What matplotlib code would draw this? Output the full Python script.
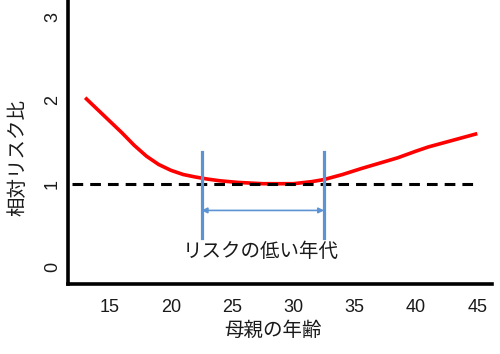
import matplotlib
matplotlib.use("Agg")
import matplotlib.pyplot as plt

plt.rcParams['font.family'] = ['Liberation Sans', 'Noto Sans CJK JP', 'DejaVu Sans']

# data
ages = [13, 14, 15, 16, 17, 18, 19, 20, 21, 22, 23, 24, 25.5, 27.5, 30, 31.5, 32.5,
        34, 35.5, 37, 38.5, 40, 41, 43, 45]
risk = [2.03, 1.89, 1.75, 1.61, 1.46, 1.33, 1.23, 1.16, 1.11, 1.08, 1.055, 1.035,
        1.015, 1.0, 1.0, 1.025, 1.05, 1.11, 1.18, 1.245, 1.31, 1.39, 1.44, 1.52, 1.60]
x_ticks = [15, 20, 25, 30, 35, 40, 45]
y_ticks = [0, 1, 2, 3]
ref_level = 1
low_range = [22.5, 32.5]
x_label = "母親の年齢"
y_label = "相対リスク比"
range_label = "リスクの低い年代"

fig = plt.figure(figsize=(5.0, 3.54), dpi=100)
ax = fig.add_axes([0.136, 0.198, 0.848, 0.802])

ax.plot([11.9, ages[-1]], [ref_level, ref_level], color='black', lw=2.2,
        linestyle=(0, (3.5, 2.3)), zorder=3)
ax.plot(ages, risk, color='#FF0000', lw=2.6, zorder=2, solid_capstyle='butt',
        solid_joinstyle='round')

blue = '#5B93D3'
for xv in low_range:
    ax.plot([xv, xv], [0.35, 1.38], color=blue, lw=2.3, zorder=4)
ax.annotate('', xy=(low_range[1], 0.68), xytext=(low_range[0], 0.68),
            arrowprops=dict(arrowstyle='<|-|>', color=blue, lw=1.2,
                            mutation_scale=8, shrinkA=0, shrinkB=0))
ax.text(sum(low_range) / 2 - 0.2, 0.19, range_label, ha='center', va='center',
        fontsize=14, color='#1a1a1a')

ax.set_xlim(11.6, 46.2)
ax.set_ylim(-0.2, 3.2)
ax.set_xticks(x_ticks)
ax.set_yticks(y_ticks)
ax.set_yticklabels([str(v) for v in y_ticks], rotation=90, va='center')
ax.tick_params(axis='both', length=0, labelsize=13, colors='#1a1a1a')
ax.tick_params(axis='x', pad=11)
ax.tick_params(axis='y', pad=5)

for s in ['top', 'right']:
    ax.spines[s].set_visible(False)
for s in ['left', 'bottom']:
    ax.spines[s].set_linewidth(2.6)
    ax.spines[s].set_color('black')

fig.text(273 / 500, 1 - 331 / 354, x_label, ha='center', va='center', fontsize=14,
         color='#1a1a1a')
fig.text(18 / 500, 1 - 157 / 354, y_label, ha='center', va='center', fontsize=14,
         rotation=90, color='#1a1a1a')

fig.savefig('out.png', dpi=100)
